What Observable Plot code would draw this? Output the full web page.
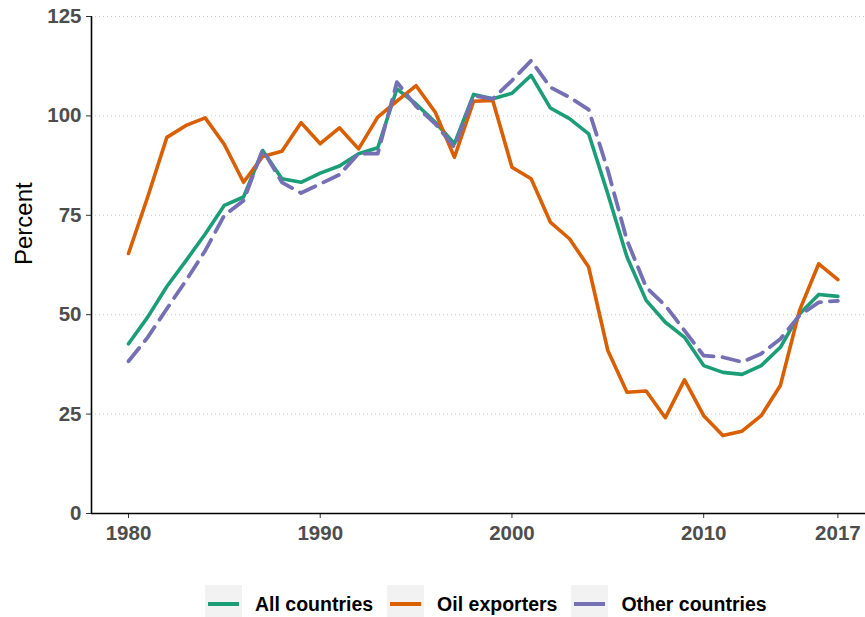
<!DOCTYPE html>
<html>
<head>
<meta charset="utf-8">
<script src="https://cdn.jsdelivr.net/npm/d3@7"></script>
<script src="https://cdn.jsdelivr.net/npm/@observablehq/plot@0.6"></script>
<style>
  html, body { margin: 0; padding: 0; background: #fff; }
  #chart svg { display: block; }
  .legend { display: flex; align-items: center; height: 38px; padding-left: 205px;
            font-family: "Liberation Sans", Arial, sans-serif; font-weight: bold; font-size: 19.5px; color: #000; }
  .key { width: 37px; height: 38px; background: #f2f2f2; display: flex; align-items: center; justify-content: center; margin-right: 13px; }
  .key span { display: block; width: 31px; height: 4px; }
  .item { display: flex; align-items: center; margin-right: 14px; }
</style>
</head>
<body>
<div id="chart"></div>
<script>
const years = d3.range(1980, 2018);
const seriesNames = ["All countries", "Oil exporters", "Other countries"];
const seriesColors = ["#1b9e77", "#d95f02", "#7570b3"];
const allCountries = [42.7, 49.4, 57.1, 63.6, 70.3, 77.5, 79.6, 91.3, 84.2, 83.3,
  85.6, 87.4, 90.5, 92.0, 106.8, 103.0, 98.4, 93.0, 105.4, 104.3,
  105.7, 110.2, 102.0, 99.3, 95.5, 80.4, 64.5, 53.6, 48.1, 44.3,
  37.2, 35.5, 35.0, 37.2, 41.8, 50.2, 55.1, 54.6];
const oilExporters = [65.4, 79.6, 94.6, 97.6, 99.5, 92.8, 83.3, 89.8, 91.1, 98.3,
  93.0, 97.0, 91.7, 99.7, 103.7, 107.6, 100.9, 89.6, 103.7, 103.9,
  87.1, 84.2, 73.3, 69.1, 62.0, 41.0, 30.5, 30.8, 24.1, 33.6,
  24.6, 19.6, 20.7, 24.6, 32.2, 51.1, 62.8, 58.8];
const otherCountries = [38.3, 44.3, 51.5, 58.6, 66.1, 75.0, 78.7, 91.5, 83.3, 80.6,
  82.9, 85.2, 90.5, 90.5, 108.5, 102.4, 98.0, 92.1, 105.1, 104.3,
  108.9, 113.9, 107.2, 104.7, 101.6, 86.3, 68.7, 56.9, 52.3, 46.0,
  39.7, 39.3, 38.1, 40.2, 43.9, 49.8, 53.1, 53.5];
const xTicks = [1980, 1990, 2000, 2010, 2017];
const yTicks = [0, 25, 50, 75, 100, 125];
const xDomain = [1978.07, 2018.44];

const seriesValues = [allCountries, oilExporters, otherCountries];
const data = seriesNames.flatMap((name, i) =>
  years.map((year, j) => ({series: name, year, value: seriesValues[i][j]})));

const font = "'Liberation Sans', Arial, sans-serif";
const chart = Plot.plot({
  width: 865,
  height: 585,
  marginTop: 16,
  marginBottom: 72,
  marginLeft: 91,
  marginRight: 0,
  style: {fontFamily: font, fontSize: "20.5px", background: "#fff", overflow: "visible"},
  x: {domain: xDomain, ticks: xTicks, tickFormat: d => String(d)},
  y: {domain: [0, 125], ticks: yTicks},
  color: {domain: seriesNames, range: seriesColors},
  marks: [
    Plot.gridY(yTicks.filter(d => d > 0), {stroke: "#c8c8c8", strokeOpacity: 1, strokeDasharray: "1,3", strokeWidth: 1}),
    Plot.axisX(xTicks, {tickFormat: d => String(d), tickSize: 5, tickPadding: 7, fontWeight: "bold", fill: "#4d4d4d", stroke: "#333", label: null}),
    Plot.axisY(yTicks, {tickSize: 5, tickPadding: 5, fontWeight: "bold", fill: "#4d4d4d", stroke: "#333", label: null}),
    Plot.text(["Percent"], {frameAnchor: "left", dx: -67, rotate: -90, fontSize: 24, fill: "#000", fontWeight: "normal"}),
    Plot.lineY(data.filter(d => d.series === "All countries"), {x: "year", y: "value", stroke: "series", strokeWidth: 3.6}),
    Plot.lineY(data.filter(d => d.series === "Oil exporters"), {x: "year", y: "value", stroke: "series", strokeWidth: 3.6}),
    Plot.lineY(data.filter(d => d.series === "Other countries"), {x: "year", y: "value", stroke: "series", strokeWidth: 3.8, strokeDasharray: "17,9"}),
    Plot.ruleY([0], {stroke: "#000", strokeWidth: 1.6}),
    Plot.ruleX([xDomain[0]], {stroke: "#000", strokeWidth: 1.6})
  ]
});
document.getElementById("chart").appendChild(chart);

const legend = document.createElement("div");
legend.className = "legend";
seriesNames.forEach((name, i) => {
  const item = document.createElement("div");
  item.className = "item";
  const key = document.createElement("div");
  key.className = "key";
  const sw = document.createElement("span");
  sw.style.background = seriesColors[i];
  key.appendChild(sw);
  const label = document.createElement("div");
  label.textContent = name;
  item.appendChild(key);
  item.appendChild(label);
  legend.appendChild(item);
});
document.getElementById("chart").appendChild(legend);
</script>
</body>
</html>
